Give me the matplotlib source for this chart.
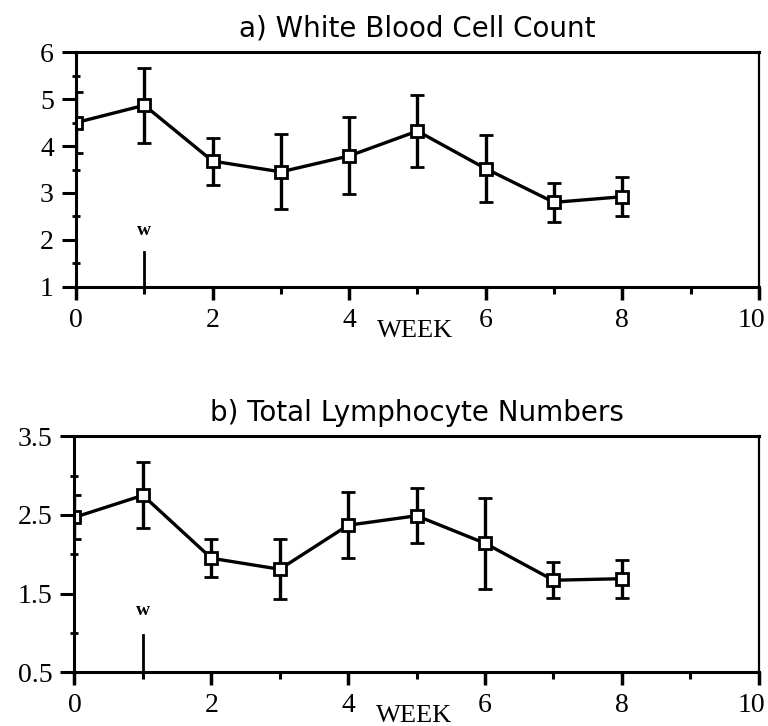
import matplotlib
matplotlib.use("Agg")
import matplotlib.pyplot as plt
import matplotlib.transforms as mtransforms
from matplotlib.ticker import MultipleLocator

weeks = [0, 1, 2, 3, 4, 5, 6, 7, 8]
wbc_mean = [4.5, 4.87, 3.68, 3.45, 3.79, 4.32, 3.52, 2.8, 2.92]
wbc_err = [0.65, 0.8, 0.5, 0.8, 0.82, 0.77, 0.72, 0.42, 0.42]
lym_mean = [2.47, 2.75, 1.95, 1.81, 2.37, 2.49, 2.14, 1.67, 1.69]
lym_err = [0.28, 0.42, 0.24, 0.38, 0.42, 0.35, 0.58, 0.23, 0.24]

titles = ["a) White Blood Cell Count", "b) Total Lymphocyte Numbers"]
xlabel = "WEEK"
wbc_yticks = [1, 2, 3, 4, 5, 6]
lym_yticks = [0.5, 1.5, 2.5, 3.5]
lym_yticklabels = ["0.5", "1.5", "2.5", "3.5"]
xticks = [0, 2, 4, 6, 8, 10]

serif = "Liberation Serif"
sans = "DejaVu Sans"
TICK_FS = 20

fig = plt.figure(figsize=(7.68, 7.26), dpi=100)
ax1 = fig.add_axes([0.099, 0.605, 0.889, 0.323])
ax2 = fig.add_axes([0.097, 0.074, 0.891, 0.325])

def style(ax, ylim, yticks, yticklabels, minor_y, title, wy, wline, week_x):
    ax.set_xlim(0, 10)
    ax.set_ylim(*ylim)
    ax.xaxis.set_minor_locator(MultipleLocator(1))
    ax.yaxis.set_minor_locator(MultipleLocator(minor_y))
    ax.tick_params(axis="y", which="major", direction="out", length=10, width=2.2, pad=6,
                   labelsize=TICK_FS)
    ax.tick_params(axis="y", which="minor", direction="inout", length=6, width=2)
    ax.tick_params(axis="x", which="major", direction="out", length=9, width=2.5, pad=6,
                   labelsize=TICK_FS)
    ax.tick_params(axis="x", which="minor", direction="out", length=5, width=2.2)
    ax.set_xticks(xticks)
    ax.set_xticklabels([str(t) for t in xticks], fontfamily=serif, fontsize=TICK_FS)
    ax.set_yticks(yticks)
    ax.set_yticklabels(yticklabels, fontfamily=serif, fontsize=TICK_FS)
    # nudge the last label ("10") left like the reference
    lbl = ax.get_xticklabels()[-1]
    lbl.set_transform(lbl.get_transform() + mtransforms.ScaledTranslation(-7 / 100, 0, fig.dpi_scale_trans))
    for s in ax.spines.values():
        s.set_linewidth(2.2)
    ax.spines["right"].set_linewidth(1.6)
    ax.set_title(title, fontfamily=sans, fontsize=20, pad=11)
    ax.text(1, wy, "w", ha="center", va="center", fontfamily=serif,
            fontsize=14, fontweight="bold")
    ax.plot([1, 1], [ylim[0], wline], color="black", lw=2)
    ax.text(week_x, -0.14, xlabel, transform=ax.get_xaxis_transform(), ha="center", va="top",
            fontfamily=serif, fontsize=19)

ax1.errorbar(weeks, wbc_mean, yerr=wbc_err, color="black", lw=2.4, elinewidth=2.4,
             capsize=5, capthick=2.4, marker="s", markersize=8, mfc="white",
             mec="black", mew=2)
style(ax1, (1, 6), wbc_yticks, [str(t) for t in wbc_yticks], 0.5, titles[0], 2.21, 1.74, 4.96)

ax2.errorbar(weeks, lym_mean, yerr=lym_err, color="black", lw=2.4, elinewidth=2.4,
             capsize=5, capthick=2.4, marker="s", markersize=8, mfc="white",
             mec="black", mew=2)
style(ax2, (0.5, 3.5), lym_yticks, lym_yticklabels, 0.5, titles[1], 1.29, 0.98, 4.96)

fig.savefig("out.png", dpi=100)
